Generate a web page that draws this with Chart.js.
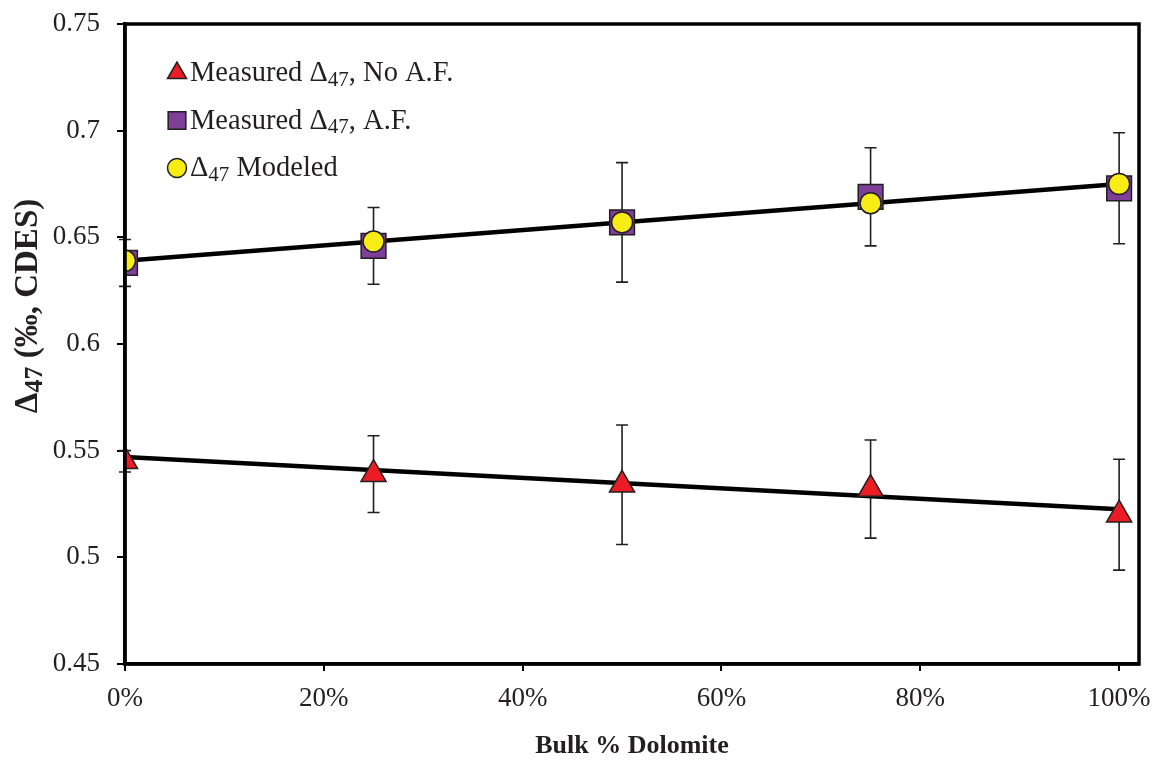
<!DOCTYPE html>
<html>
<head>
<meta charset="utf-8">
<title>Bulk % Dolomite vs Δ47</title>
<script src="https://cdn.jsdelivr.net/npm/chart.js@4.4.1/dist/chart.umd.min.js"></script>
<style>
  html, body { margin: 0; padding: 0; background: #fff; }
  #wrap { width: 1158px; height: 769px; position: relative; }
</style>
</head>
<body>
<div id="wrap"><canvas id="chart"></canvas></div>
<script>
'use strict';

/* ── data ── */
const dolomite      = [0, 0.25, 0.5, 0.75, 1];
const noAF          = [0.545, 0.539, 0.534, 0.532, 0.520];
const noAFErr       = [0.005, 0.018, 0.028, 0.023, 0.026];
const withAF        = [0.638, 0.646, 0.657, 0.669, 0.673];
const withAFErr     = [0.011, 0.018, 0.028, 0.023, 0.026];
const modeled       = [0.639, 0.648, 0.657, 0.666, 0.675];
const trendX        = [0, 1];
const trendUpper    = [0.639, 0.675];
const trendLower    = [0.547, 0.5225];
const yTicks        = [0.45, 0.5, 0.55, 0.6, 0.65, 0.7, 0.75];
const xTicks        = [0, 0.2, 0.4, 0.6, 0.8, 1];
const legendLabels  = ['Measured Δ47, No A.F.', 'Measured Δ47, A.F.', 'Δ47 Modeled'];
const yTitle        = 'Δ47 (‰, CDES)';
const xTitle        = 'Bulk % Dolomite';

const INK = '#231f20';
const SERIF = '"Liberation Serif", "Times New Roman", serif';
const pts = (xs, ys) => xs.map((x, i) => ({ x, y: ys[i] }));

/* text with the "47" after Δ set as a subscript */
function subText(ctx, str, x, y, size, weight, subScale) {
  let cx = x;
  str.split(/(47)/).forEach(p => {
    if (!p) return;
    const sub = p === '47';
    ctx.font = `${weight} ${sub ? Math.round(size * subScale) : size}px ${SERIF}`;
    ctx.fillText(p, cx, sub ? y + size * 0.22 : y);
    cx += ctx.measureText(p).width;
  });
  return cx - x;
}
function subWidth(ctx, str, size, weight, subScale) {
  let w = 0;
  str.split(/(47)/).forEach(p => {
    if (!p) return;
    ctx.font = `${weight} ${p === '47' ? Math.round(size * subScale) : size}px ${SERIF}`;
    w += ctx.measureText(p).width;
  });
  return w;
}

/* ── plugins ── */
const errorBars = {
  id: 'errorBars',
  beforeDatasetsDraw(chart) {
    const { ctx, scales: { x, y } } = chart;
    ctx.save();
    ctx.strokeStyle = INK;
    ctx.lineWidth = 1.6;
    chart.data.datasets.forEach(ds => {
      if (!ds.errors) return;
      ds.data.forEach((p, i) => {
        const e = ds.errors[i];
        const px = x.getPixelForValue(p.x);
        const top = y.getPixelForValue(p.y + e);
        const bot = y.getPixelForValue(p.y - e);
        ctx.beginPath();
        ctx.moveTo(px, top); ctx.lineTo(px, bot);
        ctx.moveTo(px - 6, top); ctx.lineTo(px + 6, top);
        ctx.moveTo(px - 6, bot); ctx.lineTo(px + 6, bot);
        ctx.stroke();
      });
    });
    ctx.restore();
  }
};

const frame = {
  id: 'frame',
  afterDraw(chart) {
    const { ctx, chartArea: a } = chart;
    ctx.save();
    ctx.strokeStyle = '#000';
    ctx.lineWidth = 3.5;
    ctx.strokeRect(a.left, a.top, a.right - a.left, a.bottom - a.top);

    // axis titles
    ctx.fillStyle = INK;
    ctx.textBaseline = 'middle';
    ctx.font = `bold 26px ${SERIF}`;
    ctx.textAlign = 'center';
    ctx.fillText(xTitle, (a.left + a.right) / 2, 746);

    ctx.textAlign = 'left';
    const w = subWidth(ctx, yTitle, 33, 'bold', 0.8);
    ctx.translate(28, 306);
    ctx.rotate(-Math.PI / 2);
    subText(ctx, yTitle, -w / 2, 0, 33, 'bold', 0.8);
    ctx.restore();
  }
};

const legendBox = {
  id: 'legendBox',
  afterDraw(chart) {
    const { ctx, chartArea: a } = chart;
    const marks = chart.data.datasets.filter(ds => ds.legendRow !== undefined);
    ctx.save();
    ctx.textBaseline = 'middle';
    ctx.textAlign = 'left';
    marks.forEach(ds => {
      const row = ds.legendRow;
      const cy = a.top + 49 + row * 47.5;
      ctx.fillStyle = ds.backgroundColor;
      ctx.strokeStyle = ds.borderColor;
      ctx.lineWidth = 1.5;
      Chart.helpers.drawPoint(ctx, {
        pointStyle: ds.pointStyle,
        radius: ds.legendRadius,
        borderWidth: 1.5
      }, a.left + 52, cy);
      ctx.fillStyle = INK;
      subText(ctx, legendLabels[row], a.left + 65, cy + 1, 28.5, 'normal', 0.75);
    });
    ctx.restore();
  }
};

/* ── chart ── */
new Chart(document.getElementById('chart'), {
  type: 'scatter',
  data: {
    datasets: [
      {
        data: pts(trendX, trendUpper), showLine: true, pointRadius: 0,
        borderColor: '#000', borderWidth: 4.5, order: 10
      },
      {
        data: pts(trendX, trendLower), showLine: true, pointRadius: 0,
        borderColor: '#000', borderWidth: 4.5, order: 10
      },
      {
        label: legendLabels[1], legendRow: 1, legendRadius: 12.5,
        data: pts(dolomite, withAF), errors: withAFErr,
        pointStyle: 'rect', pointRadius: 17.5,
        backgroundColor: '#7e3f98', borderColor: INK, borderWidth: 1.5, order: 3
      },
      {
        label: legendLabels[2], legendRow: 2, legendRadius: 9.5,
        data: pts(dolomite, modeled),
        pointStyle: 'circle', pointRadius: 10.5,
        backgroundColor: '#f7ec13', borderColor: INK, borderWidth: 1.5, order: 1
      },
      {
        label: legendLabels[0], legendRow: 0, legendRadius: 11,
        data: pts(dolomite, noAF), errors: noAFErr,
        pointStyle: 'triangle', pointRadius: 14.5,
        backgroundColor: '#ec1c24', borderColor: INK, borderWidth: 1.5, order: 2
      }
    ]
  },
  options: {
    responsive: true,
    maintainAspectRatio: false,
    animation: false,
    events: [],
    layout: { padding: { top: 24, right: 18, left: 0, bottom: 0 } },
    plugins: { legend: { display: false }, tooltip: { enabled: false } },
    scales: {
      x: {
        type: 'linear', min: 0, max: 1.02,
        afterBuildTicks: s => { s.ticks = xTicks.map(v => ({ value: v })); },
        // fixed band under the plot; no extra side padding for the end labels
        afterFit: s => { s.height = 105; s.paddingLeft = 0; s.paddingRight = 0; },
        grid: { drawOnChartArea: false, drawTicks: true, tickLength: 7, color: '#000', lineWidth: 2 },
        border: { display: true, color: '#000', width: 3.5 },
        ticks: {
          color: INK, padding: 17, maxRotation: 0,
          font: { family: SERIF, size: 27, lineHeight: 0.8 },
          callback: v => Math.round(v * 100) + '%'
        }
      },
      y: {
        type: 'linear', min: 0.45, max: 0.75,
        afterBuildTicks: s => { s.ticks = yTicks.map(v => ({ value: v })); },
        afterFit: s => { s.width = 125; s.paddingTop = 0; s.paddingBottom = 0; },
        grid: { drawOnChartArea: false, drawTicks: true, tickLength: 8, color: '#000', lineWidth: 2 },
        border: { display: true, color: '#000', width: 3.5 },
        ticks: {
          color: INK, padding: 17,
          font: { family: SERIF, size: 27, lineHeight: 0.8 },
          callback: v => String(+v.toFixed(2))
        }
      }
    }
  },
  plugins: [errorBars, frame, legendBox]
});
</script>
</body>
</html>
